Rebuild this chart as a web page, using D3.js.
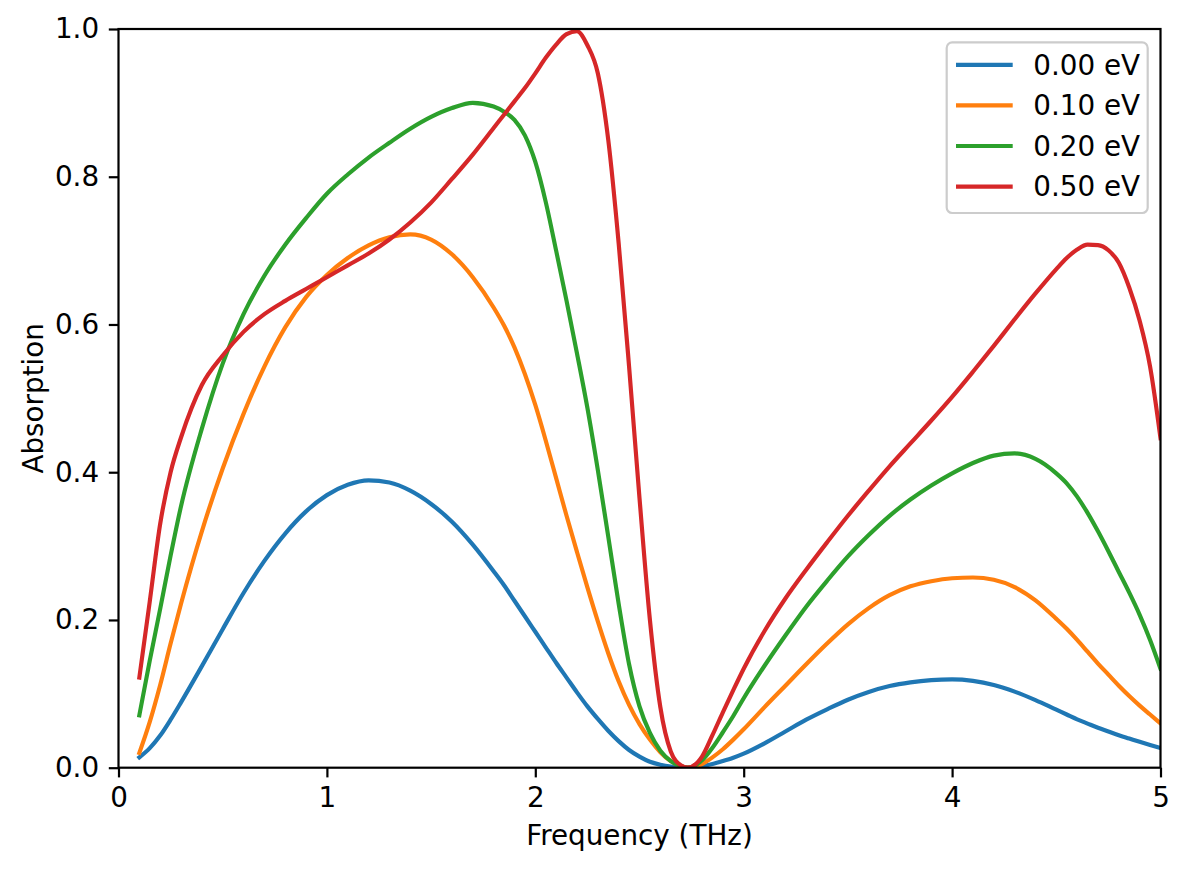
<!DOCTYPE html>
<html>
<head>
<meta charset="utf-8">
<script src="https://cdn.jsdelivr.net/npm/d3@7"></script>
<style>
body { margin: 0; background: #fff; }
text { font-family: "DejaVu Sans", sans-serif; }
</style>
</head>
<body>
<div id="chart"></div>
<script>
// frequency grid (THz), denser where the curves bend fast
const freq = [0.1, 0.15, 0.2, 0.25, 0.3, 0.4, 0.5, 0.6, 0.7, 0.8,
    0.9, 1.0, 1.1, 1.2, 1.3, 1.4, 1.5, 1.6, 1.7, 1.8,
    1.85, 1.9, 1.95, 2.0, 2.05, 2.1, 2.15, 2.2, 2.25, 2.3,
    2.35, 2.4, 2.45, 2.5, 2.55, 2.6, 2.65, 2.7, 2.73, 2.8,
    2.85, 2.9, 2.95, 3.0, 3.1, 3.2, 3.3, 3.4, 3.5, 3.6,
    3.7, 3.8, 3.9, 4.0, 4.1, 4.2, 4.3, 4.4, 4.5, 4.55,
    4.6, 4.65, 4.7, 4.75, 4.8, 4.85, 4.9, 4.95, 5.0];

const abs000 = [0.014, 0.0265, 0.0435, 0.065, 0.0885, 0.1375, 0.1875, 0.2365, 0.28, 0.317,
    0.347, 0.369, 0.383, 0.389, 0.386, 0.375, 0.357, 0.333, 0.302, 0.266,
    0.247, 0.226, 0.205, 0.184, 0.163, 0.142, 0.122, 0.102, 0.083, 0.066,
    0.05, 0.036, 0.024, 0.015, 0.008, 0.004, 0.0015, 0.0003, 0, 0.002,
    0.005, 0.009, 0.0135, 0.019, 0.033, 0.049, 0.065, 0.079, 0.092, 0.1025,
    0.1105, 0.1155, 0.1185, 0.1195, 0.1175, 0.112, 0.103, 0.0915, 0.0785, 0.072,
    0.0655, 0.0597, 0.054, 0.049, 0.044, 0.0395, 0.035, 0.0307, 0.0265];

const abs010 = [0.02, 0.062, 0.112, 0.168, 0.222, 0.32, 0.405, 0.479, 0.543, 0.596,
    0.637, 0.667, 0.69, 0.707, 0.718, 0.722, 0.715, 0.695, 0.664, 0.623,
    0.5985, 0.569, 0.533, 0.491, 0.443, 0.392, 0.341, 0.292, 0.244, 0.198,
    0.155, 0.117, 0.085, 0.059, 0.038, 0.021, 0.009, 0.002, 0, 0.005,
    0.014, 0.025, 0.038, 0.052, 0.082, 0.111, 0.14, 0.168, 0.194, 0.216,
    0.2335, 0.2455, 0.2525, 0.2565, 0.2575, 0.2545, 0.2445, 0.2265, 0.2015, 0.188,
    0.173, 0.157, 0.141, 0.126, 0.111, 0.097, 0.084, 0.072, 0.06];

const abs020 = [0.071, 0.145, 0.215, 0.287, 0.354, 0.459, 0.547, 0.614, 0.666, 0.708,
    0.744, 0.777, 0.803, 0.826, 0.846, 0.865, 0.881, 0.893, 0.9, 0.895,
    0.888, 0.877, 0.856, 0.82, 0.766, 0.7, 0.632, 0.561, 0.487, 0.403,
    0.313, 0.222, 0.14, 0.083, 0.047, 0.023, 0.009, 0.002, 0, 0.01,
    0.027, 0.048, 0.07, 0.094, 0.138, 0.179, 0.218, 0.253, 0.286, 0.315,
    0.341, 0.363, 0.382, 0.3985, 0.4125, 0.4225, 0.4255, 0.418, 0.3985, 0.385,
    0.367, 0.345, 0.32, 0.293, 0.265, 0.237, 0.207, 0.173, 0.134];

const abs050 = [0.122, 0.225, 0.33, 0.4, 0.447, 0.518, 0.558, 0.59, 0.614, 0.632,
    0.648, 0.664, 0.68, 0.696, 0.715, 0.738, 0.765, 0.797, 0.83, 0.866,
    0.884, 0.902, 0.92, 0.94, 0.961, 0.979, 0.993, 0.997, 0.978, 0.94,
    0.85, 0.71, 0.543, 0.365, 0.2, 0.082, 0.022, 0.003, 0, 0.015,
    0.044, 0.075, 0.105, 0.134, 0.185, 0.229, 0.268, 0.305, 0.341, 0.375,
    0.408, 0.439, 0.47, 0.502, 0.536, 0.571, 0.607, 0.642, 0.675, 0.69,
    0.7015, 0.708, 0.7075, 0.7005, 0.6835, 0.65, 0.605, 0.543, 0.446];

const labels = ["0.00 eV", "0.10 eV", "0.20 eV", "0.50 eV"];
const colors = ["#1f77b4", "#ff7f0e", "#2ca02c", "#d62728"];
const xTicks = [0, 1, 2, 3, 4, 5];
const yTicks = [0, 0.2, 0.4, 0.6, 0.8, 1.0];

const margin = {top: 29, right: 27.5, bottom: 103.3, left: 118.5},
    width = 1188 - margin.left - margin.right,
    height = 871 - margin.top - margin.bottom;

const fontSize = 27.8;

const svg = d3.select("#chart")
    .append("svg")
    .attr("width", 1188)
    .attr("height", 871)
    .append("g")
    .attr("transform", `translate(${margin.left}, ${margin.top})`);

const x = d3.scaleLinear().domain([0, 5]).range([0, width]);
const y = d3.scaleLinear().domain([0, 1]).range([height, 0]);

// axes
const xAxis = svg.append("g")
    .attr("transform", `translate(0, ${height})`)
    .call(d3.axisBottom(x).tickValues(xTicks).tickFormat(d3.format("d")).tickSize(9.7).tickPadding(9.7));
const yAxis = svg.append("g")
    .call(d3.axisLeft(y).tickValues(yTicks).tickFormat(d3.format(".1f")).tickSize(9.7).tickPadding(9.7));

[xAxis, yAxis].forEach(a => {
    a.select(".domain").remove();
    a.attr("font-size", fontSize).attr("font-family", "DejaVu Sans");
    a.selectAll(".tick line").attr("stroke", "#000").attr("stroke-width", 2.2);
    a.selectAll(".tick text").attr("fill", "#000");
});

// clip the curves to the plot area
svg.append("clipPath")
    .attr("id", "plotClip")
    .append("rect")
    .attr("width", width)
    .attr("height", height);

const series = [abs000, abs010, abs020, abs050];

const line = d3.line()
    .x((d, i) => x(freq[i]))
    .y(d => y(d))
    .curve(d3.curveMonotoneX);

svg.append("g")
    .attr("clip-path", "url(#plotClip)")
    .selectAll("path")
    .data(series)
    .enter()
    .append("path")
    .attr("d", d => line(d))
    .attr("fill", "none")
    .attr("stroke", (d, i) => colors[i])
    .attr("stroke-width", 4.17)
    .attr("stroke-linejoin", "round")
    .attr("stroke-linecap", "square");

// frame
svg.append("rect")
    .attr("width", width)
    .attr("height", height)
    .attr("fill", "none")
    .attr("stroke", "#000")
    .attr("stroke-width", 2.2);

// axis titles
svg.append("text")
    .attr("x", width / 2)
    .attr("y", height + 77)
    .attr("text-anchor", "middle")
    .style("font-size", fontSize + "px")
    .text("Frequency (THz)");

svg.append("text")
    .attr("transform", "rotate(-90)")
    .attr("x", -height / 2)
    .attr("y", -76)
    .attr("text-anchor", "middle")
    .style("font-size", fontSize + "px")
    .text("Absorption");

// legend
const legend = svg.append("g")
    .attr("transform", `translate(${946.7 - margin.left}, ${42.4 - margin.top})`);

legend.append("rect")
    .attr("width", 201)
    .attr("height", 170.6)
    .attr("rx", 5.5)
    .attr("fill", "#fff")
    .attr("fill-opacity", 0.8)
    .attr("stroke", "#cccccc")
    .attr("stroke-width", 2.2);

const rows = legend.selectAll(".row")
    .data(labels)
    .enter()
    .append("g")
    .attr("class", "row")
    .attr("transform", (d, i) => `translate(0, ${22.4 + i * 40.6})`);

rows.append("line")
    .attr("x1", 9.3)
    .attr("x2", 66)
    .attr("stroke", (d, i) => colors[i])
    .attr("stroke-width", 4.17);

rows.append("text")
    .attr("x", 86.6)
    .attr("dy", "0.35em")
    .style("font-size", fontSize + "px")
    .text(d => d);
</script>
</body>
</html>
